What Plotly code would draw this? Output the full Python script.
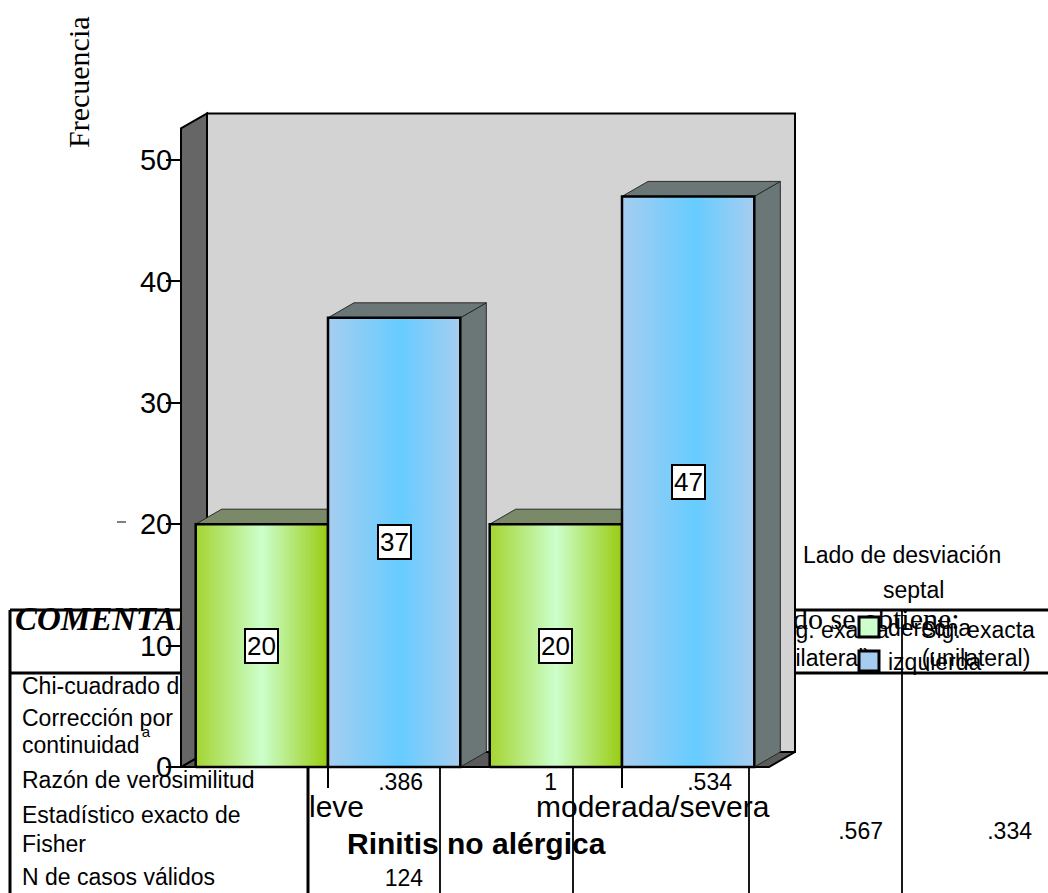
import plotly.graph_objects as go

# ---- chart data -------------------------------------------------------------
categories = ["leve", "moderada/severa"]
series_names = ["derecha", "izquierda"]
derecha = [20, 20]
izquierda = [37, 47]
y_ticks = [0, 10, 20, 30, 40, 50]
y_top = 52.6

# ---- statistics table printed underneath the chart ---------------------------
row_labels = ["Chi-cuadrado de Pearson", "Corrección por", "continuidad",
              "Razón de verosimilitud", "Estadístico exacto de", "Fisher",
              "N de casos válidos"]
row_label_y = [688, 720, 747, 782, 817, 846, 879]
value_texts = [".386", "124", "1", ".534", ".567", ".334"]
value_x = [423, 423, 557, 732, 883, 1032]
value_y = [784, 880, 784, 784, 833, 833]

# ---- geometry -----------------------------------------------------------------
W, H = 1048, 893
FRONT_LEFT_PX = 181      # pixel of the front-left corner of the frame
CAT_PX = 294             # pixels per category
BASE_PX = 767            # pixel of value 0
VAL_PX = 12.14           # pixels per unit of frequency
DEPTH_PX = (26, 15)      # 3-D depth offset (right, up)

dx = DEPTH_PX[0] / CAT_PX
dy = DEPTH_PX[1] / VAL_PX
x_left = -0.5
x_right = len(categories) - 0.5
x_range = [x_left - FRONT_LEFT_PX / CAT_PX, x_left + (W - FRONT_LEFT_PX) / CAT_PX]
y_range = [-(H - BASE_PX) / VAL_PX, BASE_PX / VAL_PX]
bar_w = 0.45

SANS = "Liberation Sans, Arial, sans-serif"
SERIF = "Liberation Serif, Times New Roman, serif"

GREEN_SCALE = [[0, "#a4d430"], [0.5, "#ccffcc"], [1, "#99cc11"]]
BLUE_SCALE = [[0, "#a6cdf0"], [0.55, "#66ccff"], [1, "#a6cdf0"]]
FACE_COLORS = {"derecha": ("#7a8a68", "#6b7777"), "izquierda": ("#6b7777", "#6b7777")}
SCALES = {"derecha": GREEN_SCALE, "izquierda": BLUE_SCALE}

fig = go.Figure()


def lines_trace(segments, width):
    xs, ys = [], []
    for (x0, y0, x1, y1) in segments:
        xs += [x0, x1, None]
        ys += [y0, y1, None]
    return go.Scatter(x=xs, y=ys, mode="lines", line=dict(color="black", width=width),
                      hoverinfo="skip", showlegend=False, xaxis="x", yaxis="y")


def text_trace(xs, ys, texts, pos, size=23, family=SANS, **font):
    return go.Scatter(x=xs, y=ys, text=texts, mode="text", textposition=pos,
                      textfont=dict(family=family, size=size, color="black", **font),
                      hoverinfo="skip", showlegend=False, xaxis="x", yaxis="y")


# table rules
fig.add_trace(lines_trace([(10, 610, W, 610), (10, 673, W, 673),
                           (10, 610, 10, H), (308, 673, 308, H)], 3))
fig.add_trace(lines_trace([(440, 673, 440, H), (573, 673, 573, H),
                           (749, 610, 749, H), (902, 610, 902, H)], 1.8))
fig.add_trace(lines_trace([(117, 522, 126, 522)], 1))

# table text
fig.add_trace(text_trace([15], [622], ["COMENTARIO:"], "middle right", size=33,
                         family=SERIF, weight="bold", style="italic"))
fig.add_trace(text_trace([793], [621], ["do se obtiene:"], "middle right", size=30, family=SERIF))
fig.add_trace(text_trace([832, 823, 978, 976], [632, 660, 632, 660],
                         ["Sig. exacta", "(bilateral)", "Sig. exacta", "(unilateral)"],
                         "middle center"))
fig.add_trace(text_trace([22] * len(row_labels), row_label_y, row_labels, "middle right"))
fig.add_trace(text_trace([146], [733], ["a"], "middle center", size=15))
fig.add_trace(text_trace(value_x, value_y, value_texts, "middle left"))


def poly(xs, ys, fill=None, gradient=None, line_color="black", line_width=2):
    kw = dict(x=xs + [xs[0]], y=ys + [ys[0]], mode="lines", fill="toself",
              line=dict(color=line_color, width=line_width), xaxis="x2", yaxis="y2",
              hoverinfo="skip", showlegend=False)
    if gradient is not None:
        kw["fillgradient"] = dict(type="horizontal", colorscale=gradient)
    else:
        kw["fillcolor"] = fill
    return go.Scatter(**kw)


# back wall, floor and left wall of the 3-D frame
fig.add_trace(poly([x_left + dx, x_right + dx, x_right + dx, x_left + dx],
                   [dy, dy, y_top + dy, y_top + dy], fill="#d3d3d3"))
fig.add_trace(poly([x_left, x_right, x_right + dx, x_left + dx],
                   [0, 0, dy, dy], fill="#5a5a5a"))
fig.add_trace(poly([x_left, x_left + dx, x_left + dx, x_left],
                   [0, dy, y_top + dy, y_top], fill="#666666"))

# bars: one block per category and series, drawn left to right
values = {"derecha": derecha, "izquierda": izquierda}
labels = []
for i, cat in enumerate(categories):
    for k, name in enumerate(series_names):
        v = values[name][i]
        x0 = i - bar_w + k * bar_w
        x1 = x0 + bar_w
        top_c, side_c = FACE_COLORS[name]
        fig.add_trace(poly([x1, x1 + dx, x1 + dx, x1], [0, dy, v + dy, v],
                           fill=side_c, line_color="#2a2a2a", line_width=1))
        fig.add_trace(poly([x0, x1, x1 + dx, x0 + dx], [v, v, v + dy, v + dy],
                           fill=top_c, line_color="#2a2a2a", line_width=1))
        fig.add_trace(poly([x0, x1, x1, x0], [0, 0, v, v], gradient=SCALES[name],
                           line_width=2.5))
        labels.append(dict(x=(x0 + x1) / 2, y=v / 2, xref="x2", yref="y2", text=str(v),
                           showarrow=False, bgcolor="white", bordercolor="black",
                           borderwidth=2, borderpad=1,
                           font=dict(family=SANS, size=26, color="black")))

annotations = list(labels)
annotations.append(dict(x=78, y=82, xref="x", yref="y", text="Frecuencia", textangle=-90,
                        showarrow=False, font=dict(family=SERIF, size=30, color="black")))
cat_shift = [8, 31]
for i, cat in enumerate(categories):
    annotations.append(dict(x=i, y=806, xref="x2", yref="y", xshift=cat_shift[i], text=cat,
                            showarrow=False, font=dict(family=SANS, size=30, color="black")))
annotations.append(dict(x=476, y=843, xref="x", yref="y", text="<b>Rinitis no alérgica</b>",
                        showarrow=False, font=dict(family=SANS, size=30, color="black")))

# legend
annotations.append(dict(x=902, y=555, xref="x", yref="y", text="Lado de desviación",
                        showarrow=False, font=dict(family=SANS, size=23, color="black")))
annotations.append(dict(x=913, y=590, xref="x", yref="y", text="septal",
                        showarrow=False, font=dict(family=SANS, size=23, color="black")))
legend_y = [628, 662]
legend_fill = ["#ccffcc", "#a6cdf0"]
shapes = []
for name, ly, col in zip(series_names, legend_y, legend_fill):
    shapes.append(dict(type="rect", xref="x", yref="y", x0=859, x1=879, y0=ly - 11, y1=ly + 9,
                       fillcolor=col, line=dict(color="black", width=3), layer="above"))
    annotations.append(dict(x=886, y=ly, xref="x", yref="y", text=name, xanchor="left",
                            showarrow=False, font=dict(family=SANS, size=23, color="black")))

fig.update_layout(
    width=W, height=H, margin=dict(l=0, r=0, t=0, b=0),
    paper_bgcolor="white", plot_bgcolor="white", showlegend=False,
    xaxis=dict(range=[0, W], visible=False, domain=[0, 1], autorange=False),
    yaxis=dict(range=[H, 0], visible=False, domain=[0, 1], autorange=False),
    xaxis2=dict(range=x_range, overlaying="x", anchor="free", position=(H - BASE_PX) / H,
                tickvals=list(range(len(categories))), ticks="outside", ticklen=20,
                tickwidth=2, tickcolor="black", showticklabels=False, showgrid=False,
                zeroline=False, showline=False, autorange=False),
    yaxis2=dict(range=y_range, overlaying="y", anchor="free", position=FRONT_LEFT_PX / W,
                tickvals=y_ticks, ticks="outside", ticklen=15, tickwidth=2,
                tickcolor="black", tickfont=dict(family=SANS, size=29, color="black"),
                showgrid=False, zeroline=False, showline=False, autorange=False,
                ticklabelstandoff=-12),
    annotations=annotations, shapes=shapes,
)

fig.write_html("out.html")
